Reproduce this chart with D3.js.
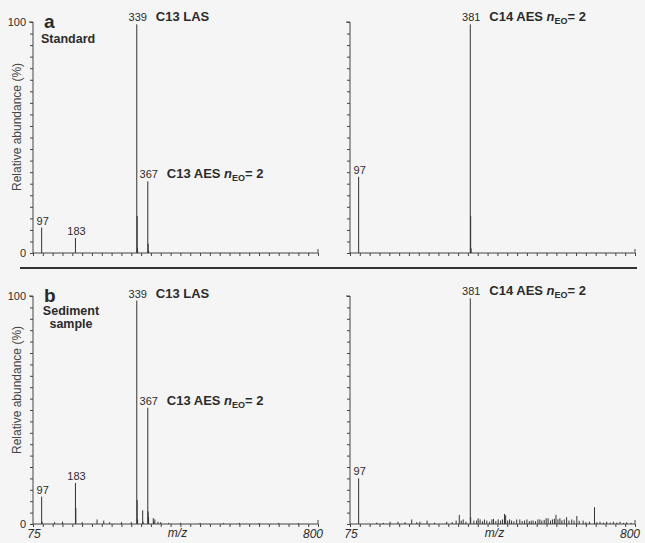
<!DOCTYPE html>
<html>
<head>
<meta charset="utf-8">
<script src="https://cdn.jsdelivr.net/npm/d3@7"></script>
<style>
  html, body { margin: 0; padding: 0; background: #f5f5f5; }
  svg { display: block; font-family: "Liberation Sans", Arial, sans-serif; }
</style>
</head>
<body>
<svg id="chart" width="645" height="543"></svg>
<script>
// m/z axis range and tick labels
const mzDomain = [75, 800];
const mzTickLabels = [75, 800];
const abundanceTicks = [0, 100];

// peaks as [m/z, relative abundance %]
const standardLeft = [
  [97, 11], [183, 6.5], [339, 99], [340, 16], [341, 2], [367, 31], [368, 4], [369, 1]
];
const standardRight = [
  [97, 33], [381, 99], [382, 16], [383, 2]
];
const sedimentLeft = [
  [97, 12], [98, 1], [130, 0.8], [150, 1], [183, 18], [184, 7], [200, 0.8], [238, 2],
  [255, 1.5], [270, 0.8], [300, 0.8], [325, 0.8], [339, 98], [340, 10.5], [341, 2],
  [354, 6], [355, 1], [367, 51], [368, 5.5], [369, 3], [381, 2.6], [382, 1], [385, 2],
  [393, 1], [400, 0.8], [420, 0.5], [450, 0.5], [500, 0.5], [560, 0.5], [600, 0.5],
  [650, 0.4], [700, 0.5], [750, 0.4]
];
const sedimentRight = [
  [97, 20], [143, 0.6], [160, 0.5], [177, 1], [197, 1], [215, 0.8], [232, 2], [245, 0.8],
  [253, 1], [271, 1.5], [290, 0.6], [321, 1], [335, 0.8], [345, 1.5], [353, 4], [358, 1.5],
  [363, 2], [370, 1], [381, 99], [382, 3], [390, 1.5], [397, 1.5], [401, 2.5], [406, 2],
  [412, 1.2], [417, 2], [423, 1.5], [430, 1], [436, 2], [440, 2.2], [446, 1.3], [452, 2],
  [458, 1.5], [463, 2], [468, 4.4], [471, 3.8], [476, 1.5], [481, 2], [486, 1.5],
  [492, 1.2], [499, 2], [507, 2], [513, 1.3], [519, 1.5], [525, 2], [531, 1.2], [536, 1.5],
  [541, 1.5], [547, 1.2], [553, 2], [558, 2], [563, 1.5], [569, 1.8], [574, 2.5],
  [579, 2.5], [585, 1.5], [590, 2], [595, 2.3], [599, 4], [604, 2], [609, 2.5], [614, 1.6],
  [620, 2], [626, 3], [632, 1.5], [639, 2], [645, 1.5], [652, 3.5], [658, 1.4], [668, 1.5],
  [675, 0.8], [684, 1], [697, 7.4], [703, 0.8], [711, 1], [720, 0.6], [728, 1], [737, 0.6],
  [745, 1], [754, 0.6], [762, 1], [771, 0.5], [779, 0.8], [790, 0.5]
];

// labelled peaks: [m/z, number label, compound name (optional)]
const labelsStandardLeft = [[97, "97"], [183, "183"], [339, "339", "C13 LAS"], [367, "367", "C13 AES"]];
const labelsStandardRight = [[97, "97"], [381, "381", "C14 AES"]];
const labelsSedimentLeft = [[97, "97"], [183, "183"], [339, "339", "C13 LAS"], [367, "367", "C13 AES"]];
const labelsSedimentRight = [[97, "97"], [381, "381", "C14 AES"]];

const svg = d3.select("#chart");
const ink = "#2b2b2b";

const rows = [
  { top: 22, bottom: 253, titleY: 127, letter: "a", caption: ["Standard"], showMz: false },
  { top: 296, bottom: 524, titleY: 390, letter: "b", caption: ["Sediment", "sample"], showMz: true }
];
const cols = [{ left: 33, width: 285 }, { left: 350, width: 285 }];

const panels = [
  { row: 0, col: 0, peaks: standardLeft, labels: labelsStandardLeft },
  { row: 0, col: 1, peaks: standardRight, labels: labelsStandardRight },
  { row: 1, col: 0, peaks: sedimentLeft, labels: labelsSedimentLeft },
  { row: 1, col: 1, peaks: sedimentRight, labels: labelsSedimentRight }
];

panels.forEach(p => {
  const r = rows[p.row], c = cols[p.col];
  const x = d3.scaleLinear().domain(mzDomain).range([c.left, c.left + c.width]);
  const y = d3.scaleLinear().domain([0, 100]).range([r.bottom, r.top]);
  const g = svg.append("g");

  // y axis with minor ticks every 5 %
  const yAxis = d3.axisLeft(y).tickValues(d3.range(0, 101, 5)).tickSize(3).tickFormat("");
  const ya = g.append("g").attr("transform", `translate(${c.left},0)`).call(yAxis);
  ya.select(".domain").attr("d", `M-4,${y(100)}H0V${y(0)}`);

  // x axis, ticks every 25
  const xAxis = d3.axisBottom(x).tickValues(d3.range(75, 801, 25)).tickSize(3).tickFormat("");
  const xa = g.append("g").attr("transform", `translate(0,${r.bottom})`).call(xAxis);
  xa.select(".domain").attr("d", `M${c.left},0H${c.left + c.width}V-4`);
  g.selectAll(".domain, .tick line").attr("stroke", "#444").attr("stroke-width", 1);

  if (p.col === 0) {
    g.selectAll("text.ylab").data(abundanceTicks).enter().append("text")
      .attr("x", c.left - 7).attr("y", d => y(d))
      .attr("dy", "0.35em").attr("text-anchor", "end")
      .attr("font-size", 11).attr("fill", ink).text(d => d);

    g.append("text")
      .attr("transform", `translate(21,${r.titleY}) rotate(-90)`)
      .attr("text-anchor", "middle").attr("font-size", 12).attr("fill", "#444")
      .text("Relative abundance (%)");

    g.append("text").attr("x", 44).attr("y", r.top + 6)
      .attr("font-size", 19).attr("font-weight", "bold").attr("fill", ink).text(r.letter);

    const cap = g.append("text").attr("font-size", 12.5).attr("font-weight", "bold").attr("fill", ink);
    if (r.caption.length === 1) {
      cap.attr("x", 41).attr("y", r.top + 21).text(r.caption[0]);
    } else {
      cap.attr("text-anchor", "middle");
      r.caption.forEach((t, i) => {
        cap.append("tspan").attr("x", 71).attr("y", r.top + 19 + i * 13).text(t);
      });
    }
  }

  if (r.showMz) {
    g.selectAll("text.xlab").data(mzTickLabels).enter().append("text")
      .attr("x", d => x(d) + (d === 800 ? -5 : 1)).attr("y", r.bottom + 14)
      .attr("text-anchor", "middle").attr("font-size", 12).attr("font-style", "italic")
      .attr("fill", ink).text(d => d);
    g.append("text").attr("x", x(437.5) + 2).attr("y", r.bottom + 13)
      .attr("text-anchor", "middle").attr("font-size", 12).attr("font-style", "italic")
      .attr("fill", ink).text("m/z");
  }

  // peaks
  g.selectAll("line.peak").data(p.peaks).enter().append("line")
    .attr("x1", d => x(d[0])).attr("x2", d => x(d[0]))
    .attr("y1", y(0)).attr("y2", d => y(d[1]))
    .attr("stroke", "#333").attr("stroke-width", 1);

  // peak labels
  const peakVal = mz => (p.peaks.find(d => d[0] === mz) || [mz, 0])[1];
  p.labels.forEach(([mz, num, name]) => {
    const ty = y(peakVal(mz)) - 3;
    g.append("text").attr("x", x(mz) + 1).attr("y", ty)
      .attr("text-anchor", "middle").attr("font-size", 11).attr("fill", ink).text(num);
    if (name) {
      const t = g.append("text").attr("x", x(mz) + 19).attr("y", ty)
        .attr("font-size", 13).attr("font-weight", "bold").attr("fill", ink);
      t.append("tspan").text(name + " ");
      if (name.includes("AES")) {
        t.append("tspan").attr("font-style", "italic").text("n");
        t.append("tspan").attr("font-size", 9).attr("dy", 3).text("EO");
        t.append("tspan").attr("dy", -3).text("= 2");
      }
    }
  });
});

// separator between a and b
svg.append("line").attr("x1", 20).attr("x2", 637).attr("y1", 268).attr("y2", 268)
  .attr("stroke", "#333").attr("stroke-width", 2);
</script>
</body>
</html>
